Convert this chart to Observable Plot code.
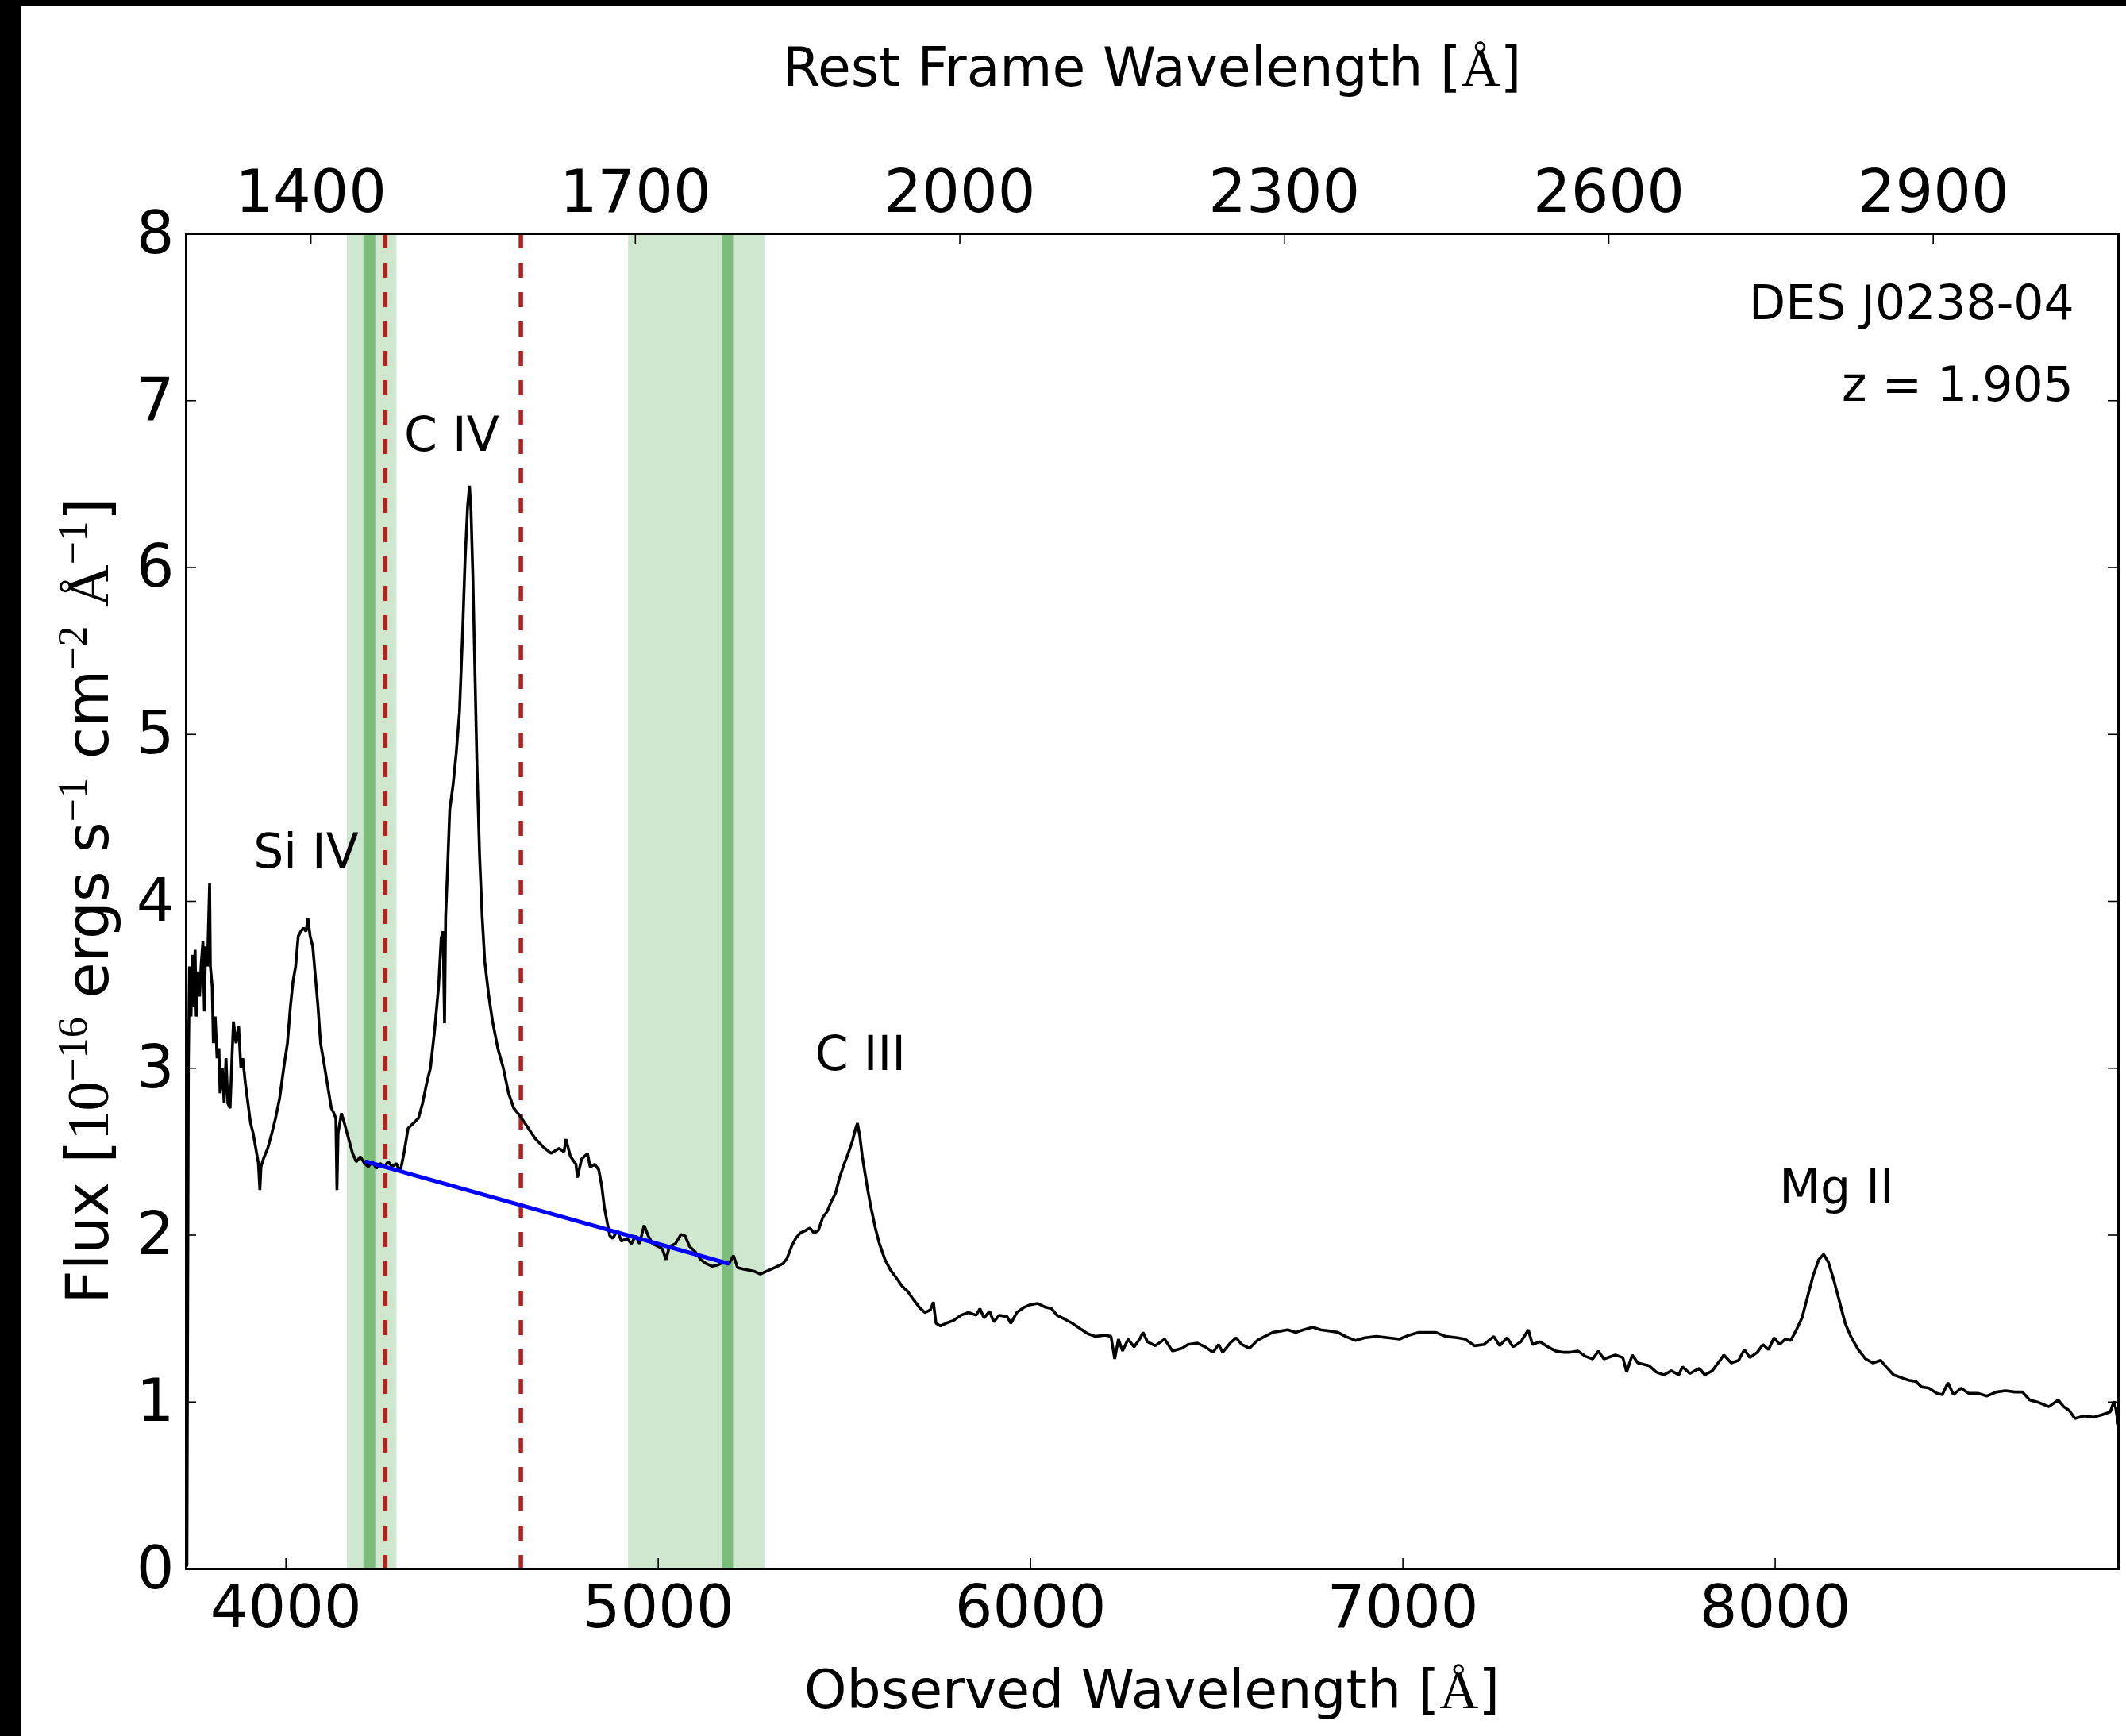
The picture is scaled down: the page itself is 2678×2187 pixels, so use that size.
<!DOCTYPE html>
<html><head><meta charset="utf-8">
<script src="https://cdn.jsdelivr.net/npm/d3@7"></script>
<script src="https://cdn.jsdelivr.net/npm/@observablehq/plot@0.6"></script>
<style>
html,body{margin:0;padding:0;background:#fff;}
#wrap{position:relative;width:2678px;height:2187px;overflow:hidden;background:#fff;}
.strip{position:absolute;background:#000;}
</style></head><body>
<div id="wrap"></div>
<script>
// ---------- data ----------
const redshift = 1.905;
const objectName = "DES J0238-04";
const redshiftLabel = "z = 1.905";

// observed wavelength [Å] and flux [1e-16 erg/s/cm2/Å]
const wavelength = [
3734,3738,3741,3745,3749,3752,3756,3759,3763,3768,3772,3777,3781,3784,3789,3795,3797,3802,3805,3810,3815,3820,3823,3829,3834,3839,3844,3850,3855,3859,3866,3873,3879,3884,3891,3898,3905,3912,3919,3926,3930,3933,3940,3951,3962,3972,3983,3994,4004,4012,4019,4026,4033,4040,4047,4054,4059,4065,4072,4079,4086,4093,4100,4111,4122,4129,4134,4137,4140,4149,4157,4168,4179,4189,4200,4211,4221,4232,4243,4253,4264,4275,4285,4296,4307,4317,4328,4342,4356,4367,4378,4388,4399,4410,4417,4422,4426,4429,4434,4440,4449,4457,4466,4474,4481,4488,4493,4497,4502,4507,4513,4520,4527,4534,4545,4555,4569,4584,4598,4612,4630,4648,4669,4690,4712,4733,4747,
4752,4764,4779,4783,4794,4810,4817,4829,4840,4848,4855,4863,4870,4878,4890,4901,4916,4928,4939,4950,4962,4973,4985,5000,5011,5021,5030,5046,5061,5072,5084,5099,5114,5129,5145,5160,5175,5190,5202,5213,5228,5244,5259,5274,5289,5305,5320,5335,5346,5358,5369,5381,5396,5407,5419,5430,5442,5453,5465,5476,5487,5499,5510,5522,5529,5535,5541,5548,5556,5563,5571,5583,5594,5609,5624,5640,5655,5670,5685,5701,5716,5731,5739,5746,5758,5773,
5792,5813,5833,5854,5864,5875,5890,5901,5916,5937,5947,5963,5983,5999,6019,6040,6056,6071,6092,6112,6133,6154,6174,6200,6216,6226,6236,6247,6262,6278,6293,6302,6314,6335,6360,6381,6407,6423,6448,6469,6490,6505,6516,6536,6552,6567,6588,6609,6629,6650,6671,6691,6712,6733,6758,6779,6805,6826,6846,6872,6898,6929,6960,6991,7017,7043,7068,7089,7115,7146,7167,7193,7218,7244,7260,7280,7296,7317,7337,7348,7368,
7390,7410,7430,7450,7470,7490,7510,7525,7540,7571,7591,7601,7616,7631,7661,7681,7701,7721,7741,7751,7771,7796,7811,7831,7852,7862,7882,7902,7917,7932,7952,7967,7982,7997,8012,8027,8042,8057,8072,8087,8102,8117,8130,8143,8158,8173,8188,8203,8223,8243,8263,8283,8298,8318,8338,8358,8378,8393,8413,8434,8449,8464,8479,8499,8519,8544,8569,8594,8619,8644,8664,8684,8709,8735,8760,8775,8790,8805,8830,8855,8880,8900,8910,8915,8921
];
const flux = [
0.02,3.03,3.61,3.31,3.68,3.37,3.71,3.31,3.58,3.43,3.61,3.76,3.34,3.73,3.61,4.11,3.61,3.49,3.15,3.31,3.06,3.12,2.85,3.00,2.79,3.06,2.79,2.76,3.06,3.28,3.15,3.25,3.00,3.06,2.91,2.79,2.67,2.61,2.52,2.43,2.27,2.41,2.46,2.52,2.61,2.70,2.82,3.00,3.15,3.37,3.52,3.61,3.79,3.82,3.84,3.82,3.90,3.79,3.73,3.55,3.37,3.15,3.06,2.91,2.76,2.73,2.70,2.27,2.61,2.73,2.67,2.58,2.49,2.44,2.47,2.43,2.41,2.44,2.40,2.43,2.41,2.44,2.41,2.43,2.38,2.49,2.64,2.67,2.70,2.79,2.91,3.00,3.22,3.49,3.78,3.82,3.27,3.91,4.19,4.55,4.70,4.88,5.13,5.58,6.04,6.37,6.49,6.34,5.95,5.43,4.82,4.28,3.91,3.64,3.43,3.28,3.12,3.00,2.85,2.76,2.71,2.65,2.58,2.53,2.49,2.52,2.50,
2.575,2.472,2.424,2.345,2.456,2.488,2.408,2.424,2.393,2.297,2.170,2.075,1.996,1.980,2.028,1.964,1.980,1.948,1.996,1.948,2.059,1.996,1.948,1.932,1.917,1.853,1.932,1.948,2.004,1.996,1.932,1.901,1.853,1.829,1.813,1.821,1.837,1.829,1.877,1.805,1.797,1.790,1.782,1.766,1.782,1.797,1.813,1.829,1.861,1.932,1.980,2.012,2.028,2.043,2.012,2.028,2.107,2.139,2.202,2.250,2.345,2.424,2.488,2.567,2.630,2.670,2.599,2.472,2.361,2.266,2.170,2.043,1.948,1.853,1.790,1.742,1.694,1.663,1.615,1.568,1.536,1.552,1.599,1.472,1.456,1.472,
1.488,1.520,1.536,1.520,1.560,1.504,1.544,1.480,1.520,1.512,1.472,1.536,1.568,1.583,1.591,1.568,1.560,1.520,1.496,1.472,1.440,1.409,1.393,1.401,1.393,1.258,1.377,1.306,1.377,1.330,1.377,1.417,1.361,1.337,1.377,1.306,1.322,1.345,1.353,1.330,1.298,1.345,1.298,1.353,1.385,1.345,1.322,1.369,1.393,1.417,1.425,1.433,1.417,1.433,1.448,1.433,1.425,1.417,1.393,1.369,1.385,1.393,1.385,1.377,1.401,1.417,1.417,1.417,1.393,1.385,1.377,1.337,1.345,1.393,1.337,1.385,1.330,1.361,1.433,1.345,1.361,
1.330,1.306,1.298,1.298,1.306,1.274,1.258,1.306,1.258,1.282,1.266,1.179,1.282,1.234,1.218,1.179,1.163,1.187,1.163,1.211,1.171,1.202,1.163,1.187,1.250,1.282,1.234,1.250,1.314,1.266,1.298,1.345,1.314,1.385,1.345,1.377,1.369,1.433,1.504,1.631,1.758,1.853,1.885,1.837,1.726,1.599,1.472,1.393,1.314,1.258,1.234,1.250,1.211,1.163,1.147,1.131,1.123,1.091,1.083,1.052,1.044,1.115,1.044,1.083,1.052,1.052,1.036,1.060,1.068,1.060,1.060,1.012,0.996,0.972,1.012,0.972,0.949,0.901,0.917,0.909,0.925,0.941,1.004,0.96,0.87
];

// continuum windows (observed Å)
const lightBandLo = [4165, 4920];
const lightBandHi = [4298, 5289];
const darkBandLo = [4209, 5172];
const darkBandHi = [4241, 5202];
// C IV integration limits (observed Å)
const lineLimits = [4267, 4631];
// linear continuum fit
const contWave = [4216, 5187];
const contFlux = [2.44, 1.83];

// line labels
const lineNames = ["Si IV", "C IV", "C III", "Mg II"];
const lineLabelX = [4054, 4445, 5543, 8165];
const lineLabelY = [4.20, 6.70, 2.99, 2.19];

// axes
const xDomain = [3732, 8922];
const yDomain = [0, 8];
const obsTicks = [4000, 5000, 6000, 7000, 8000];
const restTicks = [1400, 1700, 2000, 2300, 2600, 2900];
const yTicks = [0, 1, 2, 3, 4, 5, 6, 7, 8];

// ---------- build tables ----------
const spectrum = wavelength.map((w, i) => ({w, f: flux[i]}));
const lightBands = lightBandLo.map((lo, i) => ({lo, hi: lightBandHi[i]}));
const darkBands = darkBandLo.map((lo, i) => ({lo, hi: darkBandHi[i]}));
const continuum = contWave.map((w, i) => ({w, f: contFlux[i]}));
const labels = lineNames.map((t, i) => ({t, x: lineLabelX[i], y: lineLabelY[i]}));
const restTickObs = restTicks.map(r => r * (1 + redshift));

const W = 2678, H = 2187;
const mT = 294, mB = 211, mL = 234, mR = 10;
const innerW = W - mL - mR, innerH = H - mT - mB;
const tickLen = 13;

const svg = Plot.plot({
  width: W, height: H,
  marginTop: mT, marginBottom: mB, marginLeft: mL, marginRight: mR,
  style: {fontFamily: "DejaVu Sans", fontSize: "75px", background: "transparent", color: "black", overflow: "visible"},
  x: {domain: xDomain, axis: null},
  y: {domain: yDomain, axis: null},
  marks: [
    Plot.rect(lightBands, {x1: "lo", x2: "hi", y1: yDomain[0], y2: yDomain[1], fill: "green", fillOpacity: 0.19}),
    Plot.rect(darkBands, {x1: "lo", x2: "hi", y1: yDomain[0], y2: yDomain[1], fill: "green", fillOpacity: 0.4}),
    Plot.ruleX(lineLimits, {stroke: "#b22222", strokeWidth: 5.5, strokeDasharray: "19,18"}),
    Plot.line(spectrum, {x: "w", y: "f", stroke: "black", strokeWidth: 3.6, strokeLinejoin: "miter"}),
    Plot.line(continuum, {x: "w", y: "f", stroke: "#0000ff", strokeWidth: 5}),
    // inward ticks
    Plot.ruleX(obsTicks, {stroke: "black", strokeWidth: 1.6, insetTop: innerH - tickLen}),
    Plot.ruleX(restTickObs, {stroke: "black", strokeWidth: 1.6, insetBottom: innerH - tickLen}),
    Plot.ruleY(yTicks, {stroke: "black", strokeWidth: 1.6, insetRight: innerW - tickLen}),
    Plot.ruleY(yTicks, {stroke: "black", strokeWidth: 1.6, insetLeft: innerW - tickLen}),
    Plot.frame({stroke: "black", strokeWidth: 3}),
    Plot.axisX({anchor: "bottom", ticks: obsTicks, tickSize: 0, tickPadding: 20, label: null, tickFormat: d => String(d)}),
    Plot.axisX({anchor: "top", ticks: restTickObs, tickSize: 0, tickPadding: 28, label: null, tickFormat: d => String(Math.round(d / (1 + redshift)))}),
    Plot.axisY({anchor: "left", ticks: yTicks, tickSize: 0, tickPadding: 15, label: null, tickFormat: d => String(d)}),
    Plot.text(labels, {x: "x", y: "y", text: "t", textAnchor: "middle", lineAnchor: "bottom", fontSize: 60, fill: "black"}),
    Plot.text([objectName], {x: 8803, y: 7.487, text: d => d, textAnchor: "end", lineAnchor: "bottom", fontSize: 60, fill: "black"}),
    Plot.text([redshiftLabel], {x: 8801, y: 7.0, text: d => d, textAnchor: "end", lineAnchor: "bottom", fontSize: 60, fill: "black"})
  ]
});

// axis titles with math parts
const s = d3.select(svg);
const cx = mL + innerW / 2;
function title(x, y, parts, rotate, size, supSize) {
  const t = s.append("text")
    .attr("text-anchor", "middle")
    .attr("font-size", size)
    .attr("font-family", "DejaVu Sans")
    .attr("fill", "black")
    .attr("transform", rotate ? `translate(${x},${y}) rotate(-90)` : `translate(${x},${y})`);
  for (const p of parts) {
    const ts = t.append("tspan").text(p.t);
    if (p.serif) ts.attr("font-family", "Liberation Serif");
    if (p.sup) ts.attr("font-size", supSize).attr("baseline-shift", "52%").attr("font-family", "Liberation Serif");
  }
  return t;
}
title(cx, 2152, [{t: "Observed Wavelength ["}, {t: "Å", serif: true}, {t: "]"}], false, 68, 46);
title(cx, 108, [{t: "Rest Frame Wavelength ["}, {t: "Å", serif: true}, {t: "]"}], false, 68, 46);
title(136, mT + innerH / 2, [
  {t: "Flux ["}, {t: "10", serif: true}, {t: "−16", sup: true},
  {t: " ergs s"}, {t: "−1", sup: true},
  {t: " cm"}, {t: "−2", sup: true},
  {t: " "}, {t: "Å", serif: true}, {t: "−1", sup: true}, {t: "]"}
], true, 74, 52);

const wrap = document.getElementById("wrap");
wrap.appendChild(svg);
svg.style.position = "absolute";
svg.style.left = "0px";
svg.style.top = "0px";
for (const [l, t, w, h] of [[0, 0, 2678, 8], [0, 0, 27, 2187]]) {
  const d = document.createElement("div");
  d.className = "strip";
  Object.assign(d.style, {left: l + "px", top: t + "px", width: w + "px", height: h + "px"});
  wrap.appendChild(d);
}
</script>
</body></html>
